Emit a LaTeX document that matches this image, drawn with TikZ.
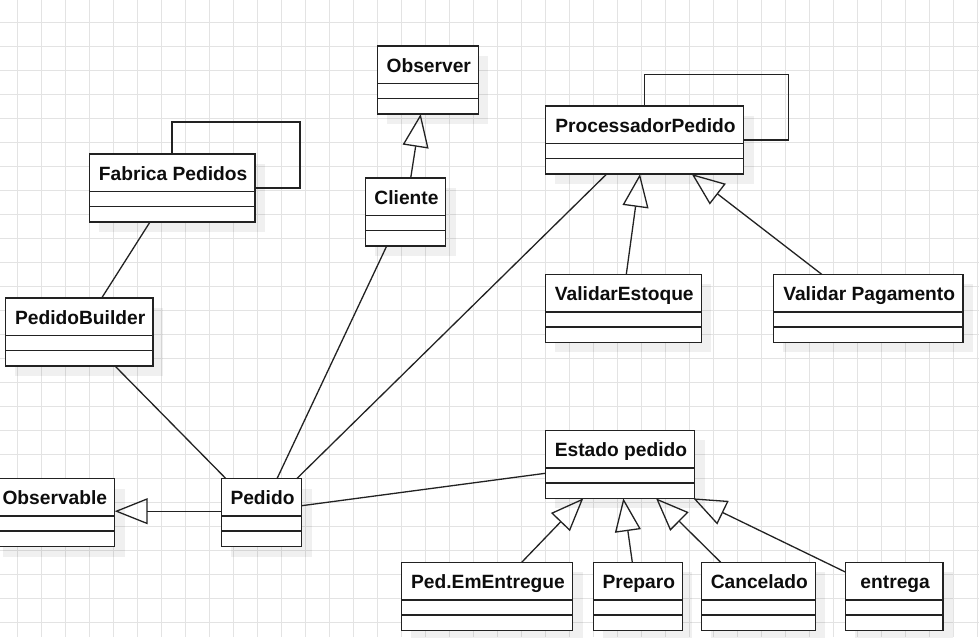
\documentclass[tikz,border=0pt]{standalone}
\usepackage{fontspec}
\setmainfont{Liberation Sans}
\usetikzlibrary{arrows.meta,calc}
\definecolor{gridc}{HTML}{E3E3E3}
\definecolor{linec}{HTML}{222222}
\tikzset{
  classbox/.style={draw=linec, line width=1.5pt, fill=white, inner sep=0pt, outer sep=0pt},
  sepline/.style={draw=linec, line width=1.5pt},
  classtitle/.style={font=\fontsize{19.2}{23}\selectfont\bfseries, text=black!95, inner sep=0pt, anchor=base},
  assoc/.style={draw=linec, line width=1.3pt},
  generalize/.style={assoc, -{Triangle[open, length=33pt, width=26pt, line width=1.3pt]}},
  shadowc/.style={fill=black, fill opacity=0.06},
  gridline/.style={draw=gridc, line width=0.9pt},
}
% #1 name, #2 left x, #3 top y, #4 right x, #5 title
\newcommand{\umlbox}[5]{%
  \fill[shadowc] ({#2+10},{#3+10}) rectangle ({#4+10},{#3+78});
  \node[classbox, anchor=north west, minimum width={(#4)-(#2)}, minimum height=68] (#1) at (#2,#3) {};
  \draw[sepline] ($(#1.north west)+(0,37.5)$) -- ($(#1.north east)+(0,37.5)$);
  \draw[sepline] ($(#1.north west)+(0,52.5)$) -- ($(#1.north east)+(0,52.5)$);
  \node[classtitle] (#1-t) at ($(#1.north)+(1,26)$) {#5};
}
\begin{document}
\begin{tikzpicture}[x=1pt,y=-1pt]
\useasboundingbox (0,0) rectangle (979,637);
\clip (0,0) rectangle (979,637);
\fill[white] (0,0) rectangle (979,637);
% grid
\foreach \gx in {17,41,...,977} \draw[gridline] (\gx,0) -- (\gx,637);
\foreach \gy in {22,46,...,630} \draw[gridline] (0,\gy) -- (979,\gy);

% classes
\umlbox{observer}{377.3}{46}{478.3}{Observer}
\umlbox{cliente}{365.3}{178}{445.7}{Cliente}
\umlbox{fabrica}{89.3}{154}{255}{Fabrica Pedidos}
\umlbox{proc}{545.3}{106}{743.7}{ProcessadorPedido}
\umlbox{vestoque}{545.3}{274.3}{701.3}{ValidarEstoque}
\umlbox{vpag}{773.3}{274.3}{963}{Validar Pagamento}
\umlbox{builder}{5.3}{298}{153}{PedidoBuilder}
\umlbox{observable}{-7}{478.7}{114.7}{Observable}
\umlbox{pedido}{221.3}{478.7}{301.7}{Pedido}
\umlbox{estado}{545.3}{430.3}{694.7}{Estado pedido}
\umlbox{pedent}{401.3}{562.3}{572.7}{Ped.EmEntregue}
\umlbox{preparo}{593.3}{562.3}{682.3}{Preparo}
\umlbox{cancel}{701.3}{562.3}{815.3}{Cancelado}
\umlbox{entrega}{845.3}{562.3}{943}{entrega}

% generalizations
\draw[generalize] ($(cliente.north west)+(45.4,0)$) -- ($(observer.south west)+(43.4,0)$);
\draw[generalize] ($(vestoque.north west)+(81,0)$) -- ($(proc.south west)+(94.7,0)$);
\draw[generalize] ($(vpag.north west)+(48.4,0)$) -- ($(proc.south west)+(146.4,0)$);
\draw[generalize] ([yshift=1.5pt]pedido.west) -- ([yshift=1.5pt]observable.east);
\draw[generalize] ($(pedent.north west)+(120.4,0)$) -- ($(estado.south west)+(38,0)$);
\draw[generalize] ($(preparo.north west)+(39,0)$) -- ($(estado.south west)+(78,0)$);
\draw[generalize] ($(cancel.north west)+(19.4,0)$) -- ($(estado.south west)+(110.7,0)$);
\draw[generalize] ($(entrega.north west)+(0,9.7)$) -- ($(estado.south east)+(-1.4,0)$);

% associations
\draw[assoc] ($(fabrica.south west)+(60.7,0)$) -- ($(builder.north west)+(96.4,0)$);
\draw[assoc] ($(builder.south west)+(109.7,0)$) -- ($(pedido.north west)+(4.7,0)$);
\draw[assoc] ($(cliente.south west)+(21.4,0)$) -- ($(pedido.north west)+(55.7,0)$);
\draw[assoc] ($(proc.south west)+(61.4,0)$) -- ($(pedido.north west)+(75.4,0)$);
\draw[assoc] ($(pedido.east)+(0,-7)$) -- ($(estado.west)+(0,9)$);

% self loops
\draw[assoc] ($(fabrica.north west)+(82.7,0)$) |- (300,122) |- (fabrica.east);
\draw[assoc] ($(proc.north west)+(99,0)$) |- (788.3,74.3) |- (proc.east);
\end{tikzpicture}
\end{document}
